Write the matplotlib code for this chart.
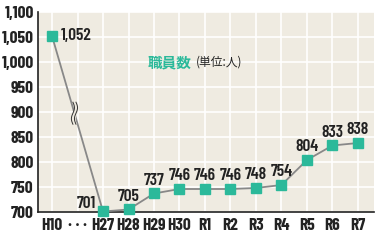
import numpy as np
import matplotlib.pyplot as plt

# データ
labels = ['H10', '· · ·', 'H27', 'H28', 'H29', 'H30', 'R1', 'R2', 'R3', 'R4', 'R5', 'R6', 'R7']
staff = [1052, None, 701, 705, 737, 746, 746, 746, 748, 754, 804, 833, 838]
yticks = [700, 750, 800, 850, 900, 950, 1000, 1050, 1100]

bg = '#efebe1'
teal = '#2bb99a'
fam = ['Barlow Condensed', 'Noto Sans CJK JP', 'DejaVu Sans']

fig = plt.figure(figsize=(3.81, 2.40), dpi=100)
ax = fig.add_axes([38 / 381, 28 / 240, 336 / 381, 200 / 240])
ax.set_facecolor(bg)

x = [i for i, v in enumerate(staff) if v is not None]
y = [v for v in staff if v is not None]

ax.plot(x, y, color='#888888', lw=1.3, zorder=3)
ax.plot(x, y, ls='none', marker='s', ms=7, color=teal, zorder=4, clip_on=False)

# 波線（省略記号）
xb = 0.88
yb = y[0] + (y[1] - y[0]) * (xb - x[0]) / (x[1] - x[0])
t = np.linspace(-1, 1, 30)
wave = 0.06 * np.sin(t * np.pi)
ax.fill_betweenx(yb + t * 22, xb - 0.06 + wave, xb + 0.06 + wave, color=bg, zorder=5)
for dx in (-0.06, 0.06):
    ax.plot(xb + dx + wave, yb + t * 22, color='#333333', lw=0.7, zorder=6)

# 数値ラベル
for xi, v in zip(x, y):
    txt = f'{v:,}'
    kw = dict(textcoords='offset points', fontsize=12.5, fontweight=600, family=fam, color='#222222')
    if xi == 0:
        ax.annotate(txt, (xi, v), xytext=(6, 0), ha='left', va='center', **kw)
    elif xi == 2:
        ax.annotate(txt, (xi, v), xytext=(-5, 0), ha='right', va='bottom', **kw)
    else:
        ax.annotate(txt, (xi, v), xytext=(0, 4), ha='center', va='bottom', **kw)

ax.set_xlim(-0.55, 12.63)
ax.set_ylim(700, 1100)
ax.set_xticks(range(len(labels)))
ax.set_xticklabels(labels, fontsize=12.5, fontweight='bold', family=fam, color='#222222')
ax.set_yticks(yticks)
ax.set_yticklabels([f'{v:,}' for v in yticks], fontsize=12.5, fontweight='bold', family=fam, color='#222222')
ax.tick_params(length=0, pad=3)
ax.tick_params(axis='x', pad=4)
ax.grid(True, color='white', lw=1.2)
ax.set_axisbelow(True)
for s in ['top', 'right']:
    ax.spines[s].set_visible(False)
ax.spines['left'].set_color('#222222')
ax.spines['bottom'].set_color('#222222')
ax.spines['left'].set_linewidth(1.2)
ax.spines['bottom'].set_linewidth(1.2)

ax.text(0.325, 0.75, '職員数', transform=ax.transAxes, fontsize=10.5, fontweight='bold', color=teal,
        family=['Noto Sans CJK JP'], va='center')
ax.text(0.47, 0.75, '(単位:人)', transform=ax.transAxes, fontsize=8.5, color='#222222',
        family=['Noto Sans CJK JP'], va='center')

plt.savefig('out.png', dpi=100)
